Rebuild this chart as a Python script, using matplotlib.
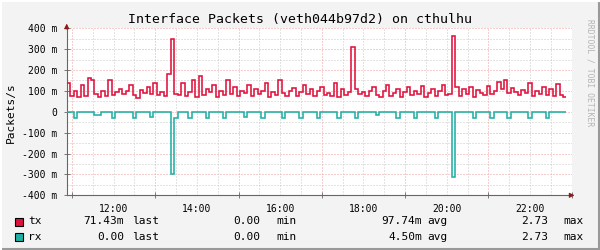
import numpy as np
import matplotlib
matplotlib.use("Agg")
import matplotlib.pyplot as plt
from matplotlib.patches import Rectangle
from matplotlib.lines import Line2D

# 5 minute steps, starting about 10:52
start_hour = 10.874
step_hours = 5 / 60

# tx packets/s in milli units
tx = [140, 75, 100, 70, 130, 75, 160, 150, 85, 70, 100, 75, 150, 80, 95, 110,
      85, 100, 130, 80, 65, 105, 90, 120, 85, 140, 80, 95, 75, 180, 350, 85,
      80, 140, 75, 95, 150, 70, 170, 80, 110, 95, 130, 70, 100, 80, 150, 85,
      120, 75, 100, 90, 130, 75, 110, 85, 100, 140, 70, 95, 80, 150, 90, 75,
      100, 115, 75, 95, 130, 85, 110, 75, 100, 120, 80, 90, 75, 140, 70, 110,
      80, 95, 310, 110, 85, 95, 75, 100, 120, 80, 70, 100, 130, 75, 90, 110,
      70, 95, 120, 80, 100, 85, 125, 70, 90, 110, 75, 100, 130, 80, 85, 365,
      120, 75, 110, 85, 120, 70, 105, 90, 80, 125, 85, 100, 145, 110, 150, 90,
      115, 95, 80, 105, 90, 140, 75, 100, 85, 120, 80, 110, 75, 135, 80, 71.43]

# rx dips: step index and value (negative, drawn below zero)
rx_dip_steps = [2, 8, 9, 13, 19, 24, 30, 31, 35, 40, 45, 51, 56, 62, 67, 72,
                78, 83, 89, 95, 100, 106, 111, 117, 122, 127, 133, 138]
rx_dip_values = [-30, -15, -15, -30, -30, -25, -300, -30, -30, -30, -30, -25,
                 -30, -30, -30, -30, -30, -30, -15, -30, -30, -30, -310, -30,
                 -30, -30, -30, -30]

title = "Interface Packets (veth044b97d2) on cthulhu"
y_ticks = [400, 300, 200, 100, 0, -100, -200, -300, -400]
y_labels = ["400 m", "300 m", "200 m", "100 m", "0", "-100 m", "-200 m",
            "-300 m", "-400 m"]
x_label_hours = [12, 14, 16, 18, 20, 22]
x_labels = ["12:00", "14:00", "16:00", "18:00", "20:00", "22:00"]

legend_names = ["tx", "rx"]
legend_last = ["71.43m", "0.00"]
legend_min = ["0.00", "0.00"]
legend_avg = ["97.74m", "4.50m"]
legend_max = ["2.73", "2.73"]

tx_color = "#e0103c"
rx_color = "#1fb0a4"
mono = "DejaVu Sans Mono"

n = len(tx)
rx = np.zeros(n)
rx[rx_dip_steps] = rx_dip_values
edges = start_hour + np.arange(n + 1) * step_hours

fig = plt.figure(figsize=(6, 2.5), dpi=100, facecolor="#f3f3f3")
ax = fig.add_axes([66.7 / 600, 1 - 195.3 / 250, (571.7 - 66.7) / 600, (195.3 - 28.3) / 250])
ax.set_facecolor("white")
ax.set_xlim(10.874, 22.95)
ax.set_ylim(-400, 400)

# grid, rrdtool style
dots = (0, (1, 2))
for y in range(-350, 400, 100):
    ax.axhline(y, color="#c8c8c8", lw=0.72, ls=dots, zorder=1)
for y in y_ticks:
    ax.axhline(y, color="#f2a0a0", lw=0.72, ls=dots, zorder=1)
for h in np.arange(11.0, 23.01, 0.5):
    if h % 2 == 1:
        ax.axvline(h, color="#f2a0a0", lw=0.72, ls=dots, zorder=1)
    else:
        ax.axvline(h, color="#c8c8c8", lw=0.72, ls=dots, zorder=1)

ax.stairs(tx, edges, baseline=None, color=tx_color, lw=1.15, zorder=3)
ax.stairs(rx, edges, baseline=None, color=rx_color, lw=1.15, zorder=3)

for s in ["top", "right"]:
    ax.spines[s].set_visible(False)
for s in ["left", "bottom"]:
    ax.spines[s].set_color("#666666")
    ax.spines[s].set_linewidth(0.8)

ax.set_yticks(y_ticks, y_labels, fontsize=7, family=mono)
ax.tick_params(axis="y", direction="inout", length=4, width=0.6, color="#666666", pad=5)
ax.set_xticks(np.arange(11, 23.01, 2), [""] * 7)
ax.set_xticks(x_label_hours, x_labels, minor=True, fontsize=7, family=mono)
ax.tick_params(axis="x", which="major", direction="inout", length=4, width=0.6, color="#666666")
ax.tick_params(axis="x", which="minor", length=0, pad=6)

# axis arrows
ax.annotate("", xy=(0, 1.045), xytext=(0, 0.98), xycoords="axes fraction",
            arrowprops=dict(arrowstyle="-|>", color="#8b1a1a", lw=0.8, mutation_scale=7),
            annotation_clip=False)
ax.annotate("", xy=(1.011, 0), xytext=(0.99, 0), xycoords="axes fraction",
            arrowprops=dict(arrowstyle="-|>", color="#8b1a1a", lw=0.8, mutation_scale=7),
            annotation_clip=False)

fig.text(0.5, 0.92, title, ha="center", va="center", fontsize=9.5, family=mono)
fig.text(0.018, 0.55, "Packets/s", rotation=90, ha="center", va="center",
         fontsize=8, family=mono)
fig.text(0.983, 0.71, "RRDTOOL / TOBI OETIKER", rotation=270, ha="center", va="center",
         fontsize=5.8, family=mono, color="#b4b4b4")

rows_y = [1 - 221.5 / 250, 1 - 236.5 / 250]
colors = [tx_color, rx_color]
for i in range(2):
    y = rows_y[i]
    fig.patches.append(Rectangle((15 / 600, y - 4 / 250), 8 / 600, 8 / 250,
                                 transform=fig.transFigure, facecolor=colors[i],
                                 edgecolor="black", lw=0.8))
    kw = dict(va="center", fontsize=8, family=mono)
    fig.text(28 / 600, y, legend_names[i], ha="left", **kw)
    fig.text(124 / 600, y, legend_last[i], ha="right", **kw)
    fig.text(132 / 600, y, "last", ha="left", **kw)
    fig.text(260 / 600, y, legend_min[i], ha="right", **kw)
    fig.text(276 / 600, y, "min", ha="left", **kw)
    fig.text(422 / 600, y, legend_avg[i], ha="right", **kw)
    fig.text(427 / 600, y, "avg", ha="left", **kw)
    fig.text(548 / 600, y, legend_max[i], ha="right", **kw)
    fig.text(563 / 600, y, "max", ha="left", **kw)

# outer frame: light top/left, dark bottom/right
fig.lines.append(Line2D([0, 1], [0.003, 0.003], transform=fig.transFigure, color="#999999", lw=1.5))
fig.lines.append(Line2D([0.998, 0.998], [0, 1], transform=fig.transFigure, color="#999999", lw=1.5))
fig.lines.append(Line2D([0, 1], [0.998, 0.998], transform=fig.transFigure, color="#ffffff", lw=1.5))
fig.lines.append(Line2D([0.001, 0.001], [0, 1], transform=fig.transFigure, color="#ffffff", lw=1.5))

fig.savefig("out.png", dpi=100, facecolor=fig.get_facecolor())
